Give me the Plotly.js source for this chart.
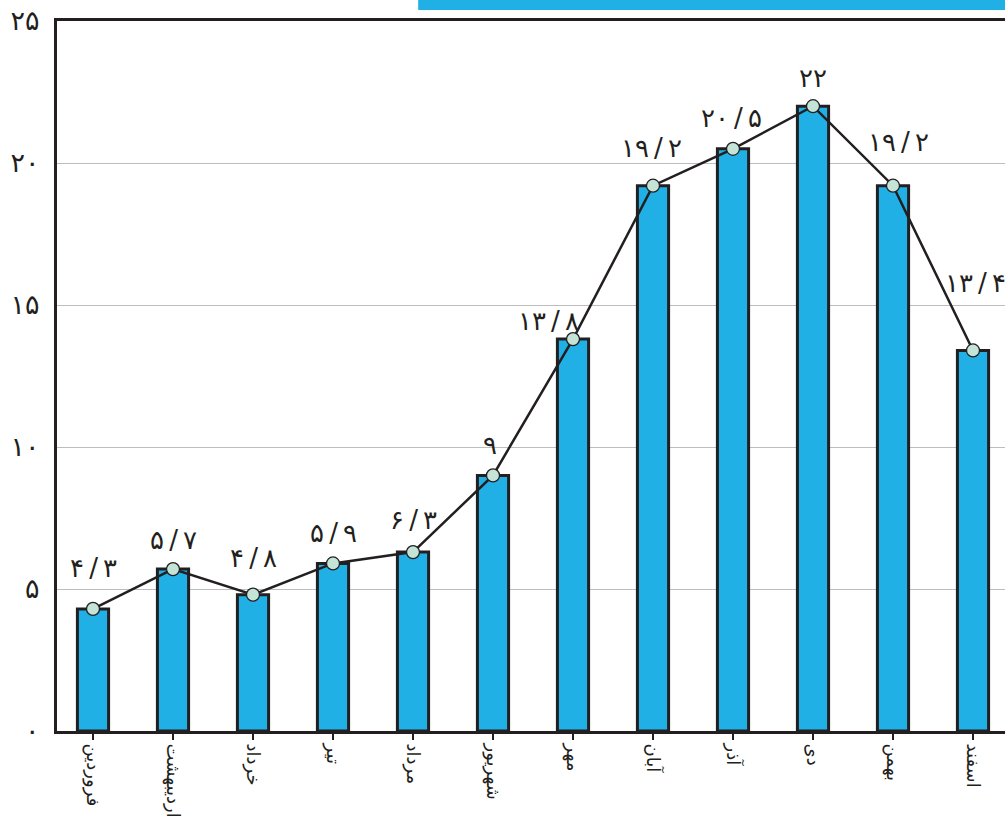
<!DOCTYPE html>
<html>
<head>
<meta charset="utf-8">
<script src="https://cdn.plot.ly/plotly-3.0.1.min.js"></script>
<style>html,body{margin:0;padding:0;background:#fff;}#chart{width:1005px;height:825px;}</style>
</head>
<body>
<div id="chart"></div>
<script>
// Data
const months = ["فروردین","اردیبهشت","خرداد","تیر","مرداد","شهریور","مهر","آبان","آذر","دی","بهمن","اسفند"];
const values = [4.3, 5.7, 4.8, 5.9, 6.3, 9, 13.8, 19.2, 20.5, 22, 19.2, 13.4];
const valueLabels = ["۴\u2009/\u2009۳","۵\u2009/\u2009۷","۴\u2009/\u2009۸","۵\u2009/\u2009۹","۶\u2009/\u2009۳","۹","۱۳\u2009/\u2009۸","۱۹\u2009/\u2009۲","۲۰\u2009/\u2009۵","۲۲","۱۹\u2009/\u2009۲","۱۳\u2009/\u2009۴"];
const yTickVals = [0, 5, 10, 15, 20, 25];
const yTickText = ["۰","۵","۱۰","۱۵","۲۰","۲۵"];

// label placement (pixels), layout only
const labelYShift = [41, 29, 37, 30, 32, 30, 18, 38, 31, 28, 44, 67];
const labelXShift = [0, 0, 0, 0, 0, -3, -25, -2, -2, 0, 5, 2];

const xIdx = months.map((m, i) => i);
const dark = "#231f20";
const blue = "#21b0e5";
const fontFam = "DejaVu Sans, Noto Sans, sans-serif";

const barTrace = {
  type: "bar", x: xIdx, y: values, width: 0.39,
  marker: {color: blue, line: {color: dark, width: 3}},
  hoverinfo: "skip"
};
const lineTrace = {
  type: "scatter", mode: "lines+markers", x: xIdx, y: values,
  line: {color: dark, width: 2.5},
  marker: {size: 13, color: "#c3e4d6", line: {color: dark, width: 1.3}},
  hoverinfo: "skip"
};

const annotations = values.map((v, i) => ({
  x: i, y: v, xref: "x", yref: "y", text: valueLabels[i], showarrow: false,
  yshift: labelYShift[i], xshift: labelXShift[i],
  font: {family: fontFam, size: 26, color: dark}
}));

const layout = {
  width: 1005, height: 825,
  margin: {l: 57, r: 0, t: 21, b: 94, pad: 0},
  paper_bgcolor: "#fff", plot_bgcolor: "#fff",
  showlegend: false,
  xaxis: {
    range: [-0.45, 11.4], tickvals: xIdx, ticktext: months,
    tickangle: 90, tickson: "boundaries", ticks: "outside", ticklen: 6, tickwidth: 2, tickcolor: dark,
    showline: true, linecolor: dark, linewidth: 3, mirror: true,
    showgrid: false, zeroline: false,
    tickfont: {family: fontFam, size: 18, color: dark}
  },
  yaxis: {
    range: [0, 25], tickvals: yTickVals, ticktext: yTickText,
    ticks: "", ticklabelstandoff: 9,
    showline: true, linecolor: dark, linewidth: 3, mirror: false,
    showgrid: true, gridcolor: "#bdbdbd", gridwidth: 1, zeroline: false,
    tickfont: {family: fontFam, size: 27, color: dark}
  },
  shapes: [{
    type: "rect", xref: "paper", yref: "paper",
    x0: 0.381, x1: 1.01, y0: 1.0155, y1: 1.04,
    fillcolor: blue, line: {width: 0}
  }],
  annotations: annotations
};

Plotly.newPlot("chart", [barTrace, lineTrace], layout, {staticPlot: true, displayModeBar: false});
</script>
</body>
</html>
